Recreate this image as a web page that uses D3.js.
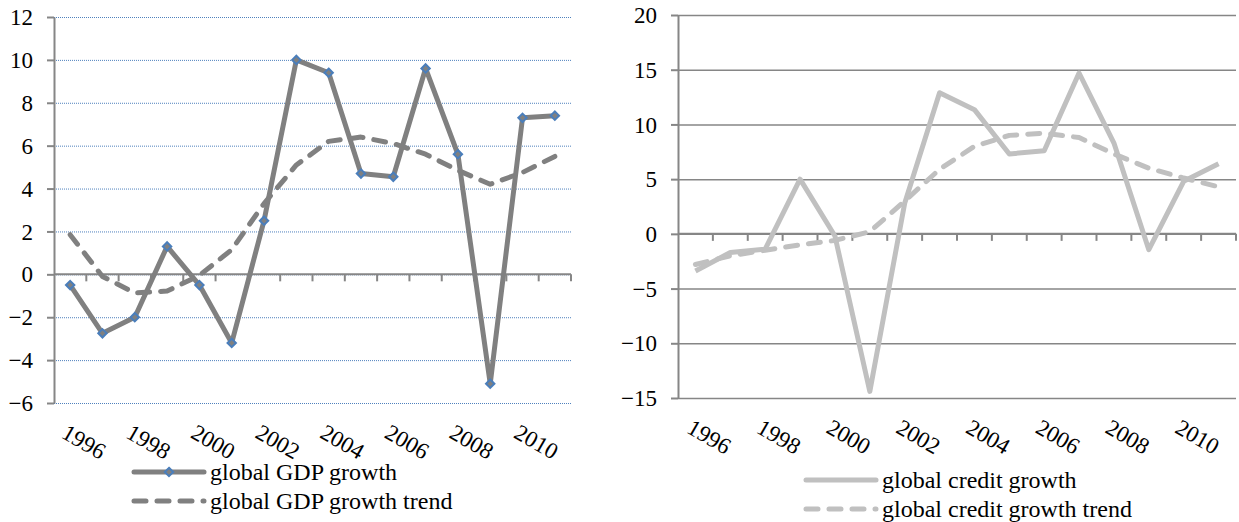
<!DOCTYPE html>
<html lang="en">
<head>
<meta charset="UTF-8">
<title>Global GDP growth and global credit growth</title>
<script src="https://d3js.org/d3.v7.min.js"></script>
<style>
    body { margin: 0; background: #fff; }
    svg text { font-family: "Times New Roman", Times, "Liberation Serif", "DejaVu Serif", serif !important; fill: #000; }
</style>
</head>
<body>
<svg id="chart"></svg>
<script>
    // categories
    const years = [1996, 1997, 1998, 1999, 2000, 2001, 2002, 2003, 2004, 2005, 2006, 2007, 2008, 2009, 2010, 2011];
    const yearLabels = [1996, 1998, 2000, 2002, 2004, 2006, 2008, 2010];

    // left panel
    const gdpGrowth = [-0.5, -2.75, -2.0, 1.3, -0.5, -3.2, 2.5, 10.0, 9.4, 4.7, 4.55, 9.6, 5.6, -5.1, 7.3, 7.4];
    const gdpTrend  = [1.85, -0.1, -0.87, -0.78, -0.05, 1.15, 3.3, 5.1, 6.2, 6.4, 6.1, 5.6, 4.85, 4.2, 4.75, 5.5];
    const gdpTicks  = [-6, -4, -2, 0, 2, 4, 6, 8, 10, 12];

    // right panel
    const creditGrowth = [-3.4, -1.7, -1.4, 5.0, -0.2, -14.4, 2.8, 12.9, 11.35, 7.3, 7.6, 14.7, 8.3, -1.45, 4.8, 6.4];
    const creditTrend  = [-2.8, -2.0, -1.5, -1.0, -0.6, 0.2, 3.0, 5.9, 8.0, 9.0, 9.2, 8.8, 7.3, 6.0, 5.1, 4.3];
    const creditTicks  = [-15, -10, -5, 0, 5, 10, 15, 20];

    const width = 1239, height = 522;
    const serif = "'Times New Roman', Times, 'Liberation Serif', 'DejaVu Serif', serif";
    const svg = d3.select("#chart").attr("width", width).attr("height", height)
        .attr("font-family", serif);

    const axisColor = "#868686";

    function drawPanel(cfg) {
        const g = svg.append("g");
        const x = d3.scaleBand().domain(years).range([cfg.left, cfg.right]).padding(0);
        const y = d3.scaleLinear().domain(cfg.domain).range([cfg.bottom, cfg.top]);
        const cx = d => x(d) + x.bandwidth() / 2;

        // gridlines
        g.append("g")
            .attr("transform", `translate(${cfg.left},0)`)
            .call(d3.axisLeft(y).tickValues(cfg.ticks).tickSize(-(cfg.right - cfg.left)).tickFormat(""))
            .call(s => s.select(".domain").remove())
            .selectAll("line")
            .attr("stroke", cfg.gridColor)
            .attr("stroke-width", cfg.gridWidth)
            .attr("stroke-dasharray", cfg.gridDash);

        // y axis
        const ya = g.append("g")
            .attr("transform", `translate(${cfg.left},0)`)
            .call(d3.axisLeft(y).tickValues(cfg.ticks).tickSize(7).tickPadding(14).tickSizeOuter(0))
            .attr("font-family", serif);
        ya.select(".domain").attr("stroke", axisColor).attr("stroke-width", 2);
        ya.selectAll(".tick line").attr("stroke", axisColor).attr("stroke-width", 2);
        ya.selectAll("text").style("font-size", "23px").attr("dy", "0.33em");

        // x axis line at zero with tick marks between categories
        const y0 = y(0);
        g.append("line")
            .attr("x1", cfg.left).attr("x2", cfg.right)
            .attr("y1", y0).attr("y2", y0)
            .attr("stroke", axisColor).attr("stroke-width", 2);
        const bounds = years.map(d => x(d)).concat([x.range()[1]]);
        g.selectAll(".xtick")
            .data(bounds.slice(1))
            .enter().append("line")
            .attr("x1", d => d).attr("x2", d => d)
            .attr("y1", y0).attr("y2", y0 + 7)
            .attr("stroke", axisColor).attr("stroke-width", 2);

        // rotated category labels below plot
        g.selectAll(".xlab")
            .data(yearLabels)
            .enter().append("text")
            .attr("transform", d => `translate(${cx(d) - 10},${cfg.bottom + 34}) rotate(30)`)
            .style("font-size", "23px")
            .text(d => d);

        const line = d3.line().x((d, i) => cx(years[i])).y(d => y(d));

        g.append("path")
            .datum(cfg.trend)
            .attr("d", line)
            .attr("fill", "none")
            .attr("stroke", cfg.color)
            .attr("stroke-width", 5)
            .attr("stroke-linecap", "round")
            .attr("stroke-linejoin", "round")
            .attr("stroke-dasharray", "12,11");

        g.append("path")
            .datum(cfg.series)
            .attr("d", line)
            .attr("fill", "none")
            .attr("stroke", cfg.color)
            .attr("stroke-width", 5)
            .attr("stroke-linejoin", "round");

        const diamond = d3.symbol().type(d3.symbolDiamond2).size(45);
        if (cfg.markers) {
            g.selectAll(".mk")
                .data(cfg.series)
                .enter().append("path")
                .attr("d", diamond)
                .attr("transform", (d, i) => `translate(${cx(years[i])},${y(d)})`)
                .attr("fill", "#808080")
                .attr("stroke", "#4a7ebb")
                .attr("stroke-width", 2);
        }

        // legend
        const lg = g.append("g");
        const rows = [
            { label: cfg.names[0], dash: null },
            { label: cfg.names[1], dash: "12,11" }
        ];
        rows.forEach((r, i) => {
            const ly = cfg.legendY + i * 29;
            lg.append("line")
                .attr("x1", cfg.legendX).attr("x2", cfg.legendX + 70)
                .attr("y1", ly).attr("y2", ly)
                .attr("stroke", cfg.color).attr("stroke-width", 5)
                .attr("stroke-linecap", "round")
                .attr("stroke-dasharray", r.dash);
            if (i === 0 && cfg.markers) {
                lg.append("path")
                    .attr("d", diamond)
                    .attr("transform", `translate(${cfg.legendX + 35},${ly})`)
                    .attr("fill", "#808080")
                    .attr("stroke", "#4a7ebb")
                    .attr("stroke-width", 2);
            }
            lg.append("text")
                .attr("x", cfg.legendX + 76)
                .attr("y", ly + 8)
                .style("font-size", "24px")
                .text(r.label);
        });
    }

    drawPanel({
        left: 54, right: 571, top: 17, bottom: 403,
        domain: [-6, 12], ticks: gdpTicks,
        series: gdpGrowth, trend: gdpTrend,
        color: "#808080", markers: true,
        gridColor: "#4f81bd", gridWidth: 1, gridDash: "1,1",
        names: ["global GDP growth", "global GDP growth trend"],
        legendX: 134, legendY: 472
    });

    drawPanel({
        left: 678, right: 1236, top: 15, bottom: 398,
        domain: [-15, 20], ticks: creditTicks,
        series: creditGrowth, trend: creditTrend,
        color: "#c0c0c0", markers: false,
        gridColor: axisColor, gridWidth: 1.5, gridDash: null,
        names: ["global credit growth", "global credit growth trend"],
        legendX: 806, legendY: 480
    });
</script>
</body>
</html>
